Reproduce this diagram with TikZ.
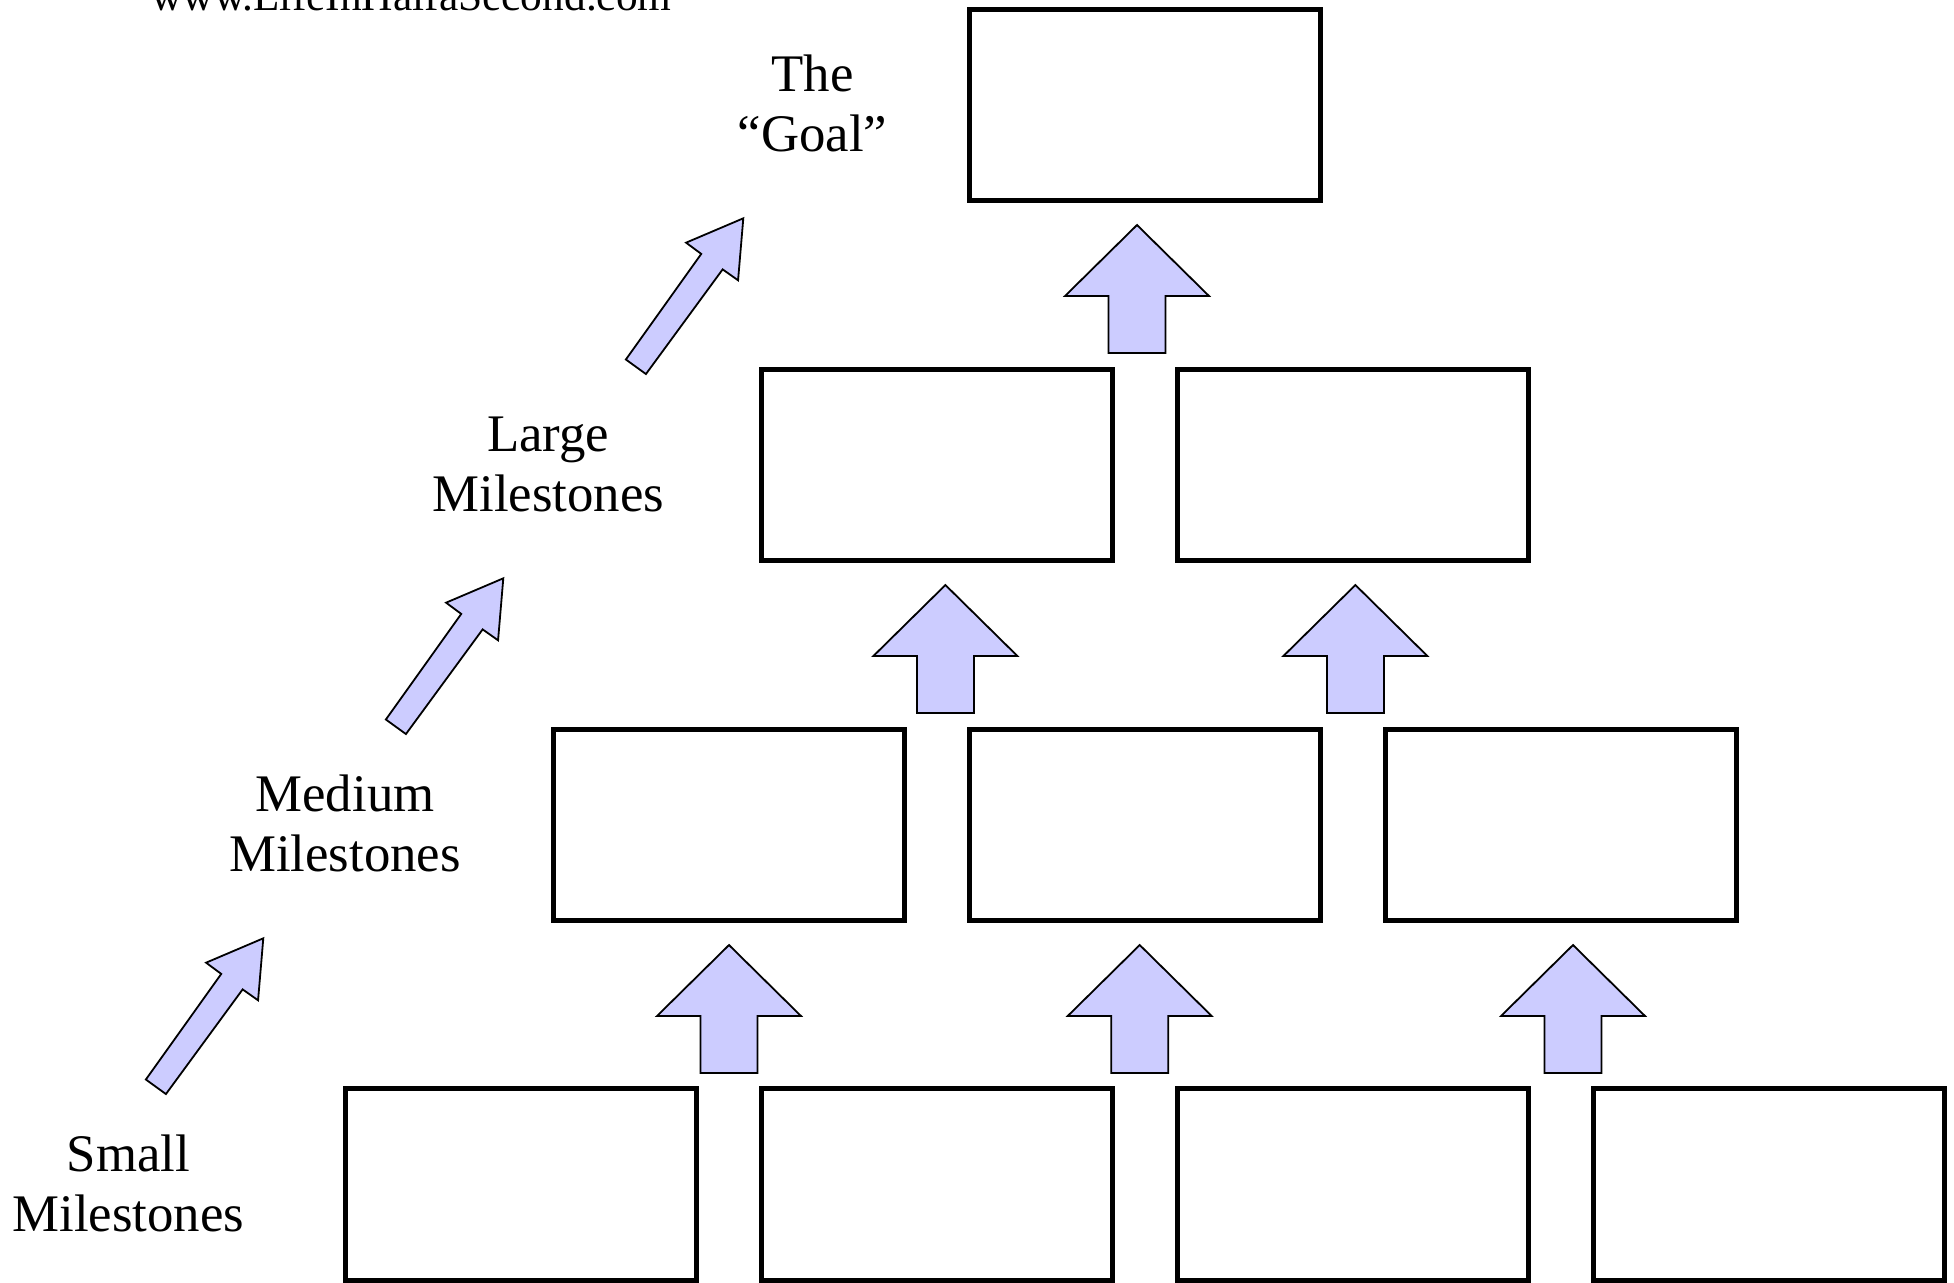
\documentclass[tikz,border=0pt]{standalone}
\usepackage{fontspec}
\setmainfont{Liberation Serif}
\definecolor{arrowfill}{HTML}{CCCCFF}
\begin{document}
\begin{tikzpicture}[x=0.5pt,y=-0.5pt,
  mbox/.style={draw=black, line width=2.5pt, minimum width=175.75pt, minimum height=95.75pt, inner sep=0pt},
  lbl/.style={align=center, font=\fontsize{26.4}{30}\selectfont, inner sep=0pt},
  blockarrow/.style={fill=arrowfill, draw=black, line width=0.9pt, line join=miter},
  pics/uparrow/.style={code={\draw[blockarrow] (0,0) -- (72,71) -- (28.5,71) -- (28.5,128) -- (-28.5,128) -- (-28.5,71) -- (-72,71) -- cycle;}},
  pics/diagarrow/.style={code={\draw[blockarrow] (0,0) -- (-5.23,61.98) -- (-20.66,51.08) -- (-97.37,155.74) -- (-117.45,141.2) -- (-42.04,35.6) -- (-57.23,24.36) -- cycle;}}
]
\useasboundingbox (0,0) rectangle (1954,1282);
% website
\node[font=\fontsize{21.7}{26}\selectfont, inner sep=0pt, anchor=base] (web) at (411.5,10) {www.LifeInHalfaSecond.com};
% boxes
\node[mbox] (g)   at (1144.75,105) {};
\node[mbox] (l1)  at (936.75,465) {};
\node[mbox] (l2)  at (1352.75,465) {};
\node[mbox] (m1)  at (728.75,824.75) {};
\node[mbox] (m2)  at (1144.75,824.75) {};
\node[mbox] (m3)  at (1560.75,824.75) {};
\node[mbox] (s1)  at (520.75,1184.5) {};
\node[mbox] (s2)  at (936.75,1184.5) {};
\node[mbox] (s3)  at (1352.75,1184.5) {};
\node[mbox] (s4)  at (1768.75,1184.5) {};
% up arrows
\pic at (1137,225) {uparrow};
\pic at (945.4,585) {uparrow};
\pic at (1355.4,585) {uparrow};
\pic at (729,945) {uparrow};
\pic at (1139.7,945) {uparrow};
\pic at (1573,945) {uparrow};
% diagonal arrows
\pic at (263.3,938.3) {diagarrow};
\pic at (503.3,578.3) {diagarrow};
\pic at (743.3,218.3) {diagarrow};
% labels (base anchor = baseline of the last line)
\node[lbl, anchor=base] (tgoal) at (812.5,151.7) {The\\“Goal”};
\node[lbl, anchor=base] (tlarge) at (548.3,511.7) {Large\\Milestones};
\node[lbl, anchor=base] (tmed) at (345,871.7) {Medium\\Milestones};
\node[lbl, anchor=base] (tsmall) at (128.4,1231.7) {Small\\Milestones};
\end{tikzpicture}
\end{document}
